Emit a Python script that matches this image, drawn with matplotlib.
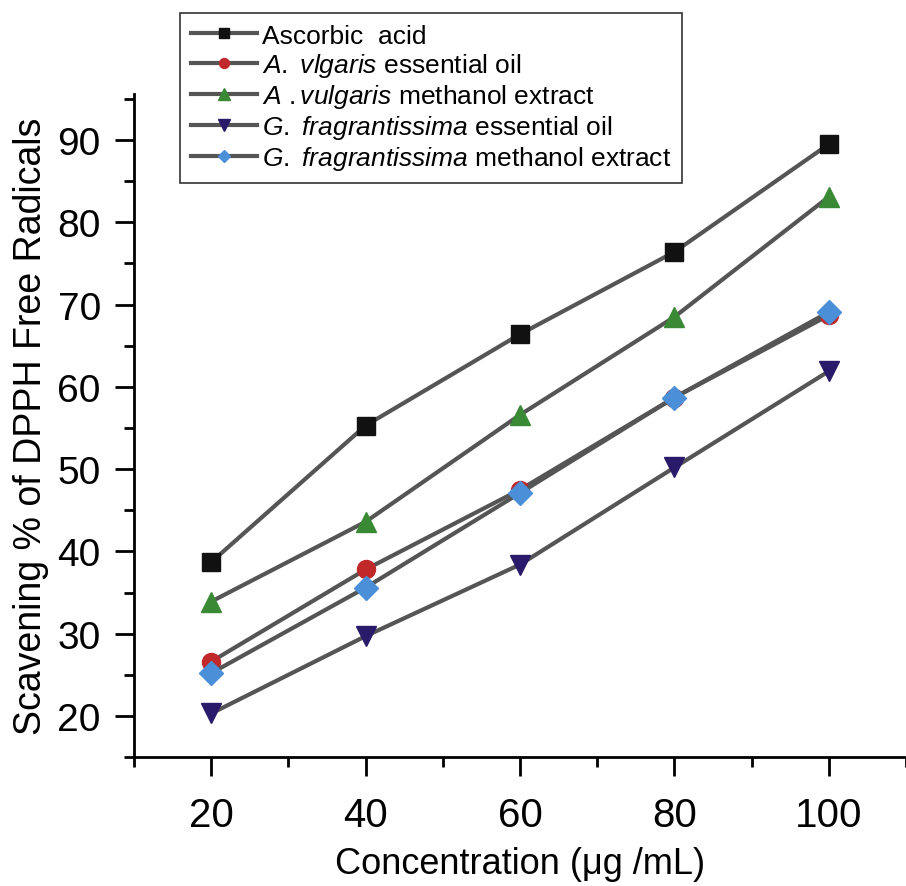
import matplotlib
matplotlib.use("Agg")
import matplotlib.pyplot as plt
from matplotlib.ticker import MultipleLocator

plt.rcParams['font.family'] = ['Liberation Sans', 'DejaVu Sans']
plt.rcParams['mathtext.fontset'] = 'custom'
plt.rcParams['mathtext.it'] = 'Liberation Sans:italic'
plt.rcParams['mathtext.rm'] = 'Liberation Sans'

# data
conc = [20, 40, 60, 80, 100]
ascorbic = [38.7, 55.3, 66.4, 76.4, 89.5]
av_oil = [26.6, 37.8, 47.5, 58.7, 68.7]
av_meoh = [33.9, 43.6, 56.6, 68.5, 83.1]
gf_oil = [20.3, 29.7, 38.4, 50.2, 61.9]
gf_meoh = [25.2, 35.6, 47.1, 58.7, 69.1]

labels = [
    "Ascorbic  acid",
    r"$\it{A.\ vlgaris}$ essential oil",
    r"$\it{A\ .vulgaris}$ methanol extract",
    r"$\it{G.\ fragrantissima}$ essential oil",
    r"$\it{G.\ fragrantissima}$ methanol extract",
]
series = [ascorbic, av_oil, av_meoh, gf_oil, gf_meoh]
markers = ['s', 'o', '^', 'v', 'D']
colors = ['#111111', '#c0282a', '#3a8a35', '#2a1a6a', '#4a8fd8']
sizes = [13, 13, 15, 15, 12]

fig = plt.figure(figsize=(9.06, 8.87), dpi=100)
ax = fig.add_axes([0.148, 0.1454, 0.852, 0.7475])

for ys, m, c, s, lab in zip(series, markers, colors, sizes, labels):
    ax.plot(conc, ys, '-', color='#555555', lw=3, marker=m, ms=s,
            mfc=c, mec=c, label=lab)

ax.set_xlim(10, 110)
ax.set_ylim(15, 95.6)
ax.xaxis.set_major_locator(MultipleLocator(20))
ax.xaxis.set_minor_locator(MultipleLocator(10))
ax.yaxis.set_minor_locator(MultipleLocator(5))
ax.set_yticks(range(20, 91, 10))

for side in ['top', 'right']:
    ax.spines[side].set_visible(False)
for side in ['left', 'bottom']:
    ax.spines[side].set_linewidth(2)

ax.tick_params(which='major', direction='out', length=14, width=2, labelsize=28, pad=10)
ax.tick_params(which='minor', direction='out', length=7, width=2)
ax.tick_params(axis='x', pad=14, labelsize=29)

ax.set_xlabel("Concentration (μg /mL)", fontsize=26, labelpad=9)
ax.set_ylabel("Scavening % of DPPH Free Radicals", fontsize=27, labelpad=6)

leg = ax.legend(loc='upper left', bbox_to_anchor=(0.0596, 1.122), borderaxespad=0,
                fontsize=19, markerscale=0.55, handlelength=2.5, fancybox=False,
                edgecolor='#333333', framealpha=1, borderpad=0.4,
                labelspacing=0.12, handletextpad=0.2)
leg.get_frame().set_linewidth(1.2)

fig.savefig("out.png", dpi=100)
